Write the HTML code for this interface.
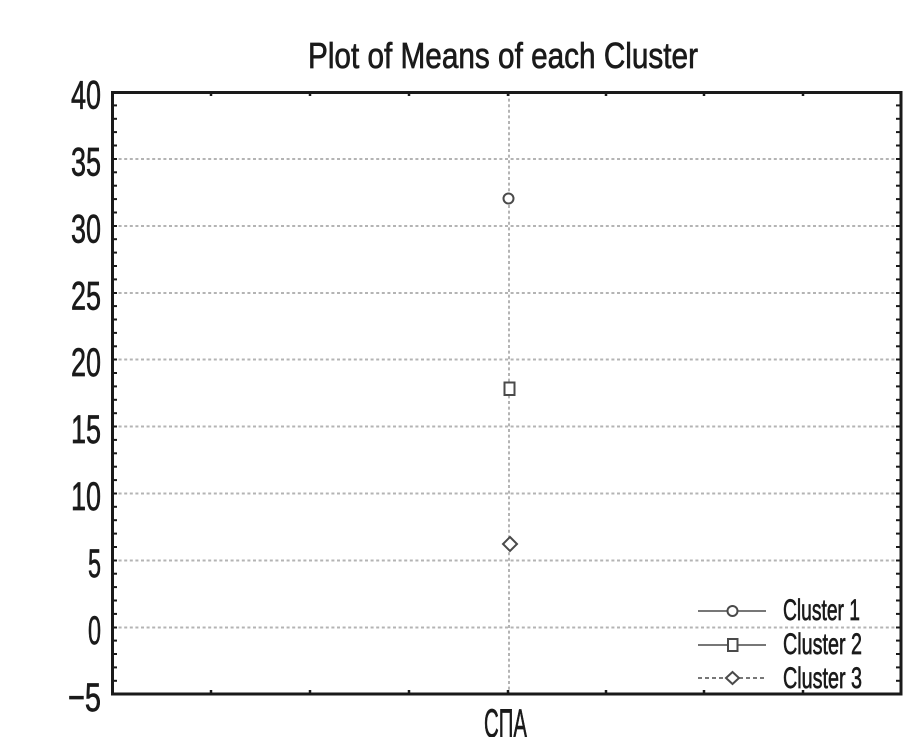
<!DOCTYPE html>
<html><head><meta charset="utf-8"><style>
html,body{margin:0;padding:0;background:#fff;}
svg{display:block;}
text{font-family:"Liberation Sans","DejaVu Sans",sans-serif;fill:#1a1a1a;stroke:#1a1a1a;stroke-width:0.7px;}
</style></head><body>
<svg width="906" height="737" viewBox="0 0 906 737" xmlns="http://www.w3.org/2000/svg">
<rect width="906" height="737" fill="#fff"/>
<text x="308" y="68" font-size="36" textLength="390" lengthAdjust="spacingAndGlyphs">Plot of Means of each Cluster</text>
<g stroke="#b4b4b4" stroke-width="2" stroke-dasharray="3,2.6">
<line x1="113" y1="159" x2="901" y2="159"/>
<line x1="113" y1="226" x2="901" y2="226"/>
<line x1="113" y1="293" x2="901" y2="293"/>
<line x1="113" y1="359.5" x2="901" y2="359.5"/>
<line x1="113" y1="426.5" x2="901" y2="426.5"/>
<line x1="113" y1="493.5" x2="901" y2="493.5"/>
<line x1="113" y1="560.5" x2="901" y2="560.5"/>
<line x1="113" y1="627.5" x2="901" y2="627.5"/>
<line x1="509" y1="93" x2="509" y2="694"/>
</g>
<g stroke="#1a1a1a" stroke-width="2">
<line x1="112" y1="105.4" x2="117" y2="105.4"/><line x1="112" y1="118.8" x2="117" y2="118.8"/><line x1="112" y1="132.1" x2="117" y2="132.1"/><line x1="112" y1="145.5" x2="117" y2="145.5"/><line x1="112" y1="159" x2="117" y2="159"/>
<line x1="112" y1="172.3" x2="117" y2="172.3"/><line x1="112" y1="185.7" x2="117" y2="185.7"/><line x1="112" y1="199.1" x2="117" y2="199.1"/><line x1="112" y1="212.5" x2="117" y2="212.5"/><line x1="112" y1="226" x2="117" y2="226"/>
<line x1="112" y1="239.2" x2="117" y2="239.2"/><line x1="112" y1="252.6" x2="117" y2="252.6"/><line x1="112" y1="266" x2="117" y2="266"/><line x1="112" y1="279.4" x2="117" y2="279.4"/><line x1="112" y1="293" x2="117" y2="293"/>
<line x1="112" y1="306.1" x2="117" y2="306.1"/><line x1="112" y1="319.5" x2="117" y2="319.5"/><line x1="112" y1="332.9" x2="117" y2="332.9"/><line x1="112" y1="346.3" x2="117" y2="346.3"/><line x1="112" y1="359.5" x2="117" y2="359.5"/>
<line x1="112" y1="373" x2="117" y2="373"/><line x1="112" y1="386.4" x2="117" y2="386.4"/><line x1="112" y1="399.8" x2="117" y2="399.8"/><line x1="112" y1="413.2" x2="117" y2="413.2"/><line x1="112" y1="426.5" x2="117" y2="426.5"/>
<line x1="112" y1="439.9" x2="117" y2="439.9"/><line x1="112" y1="453.3" x2="117" y2="453.3"/><line x1="112" y1="466.7" x2="117" y2="466.7"/><line x1="112" y1="480.1" x2="117" y2="480.1"/><line x1="112" y1="493.5" x2="117" y2="493.5"/>
<line x1="112" y1="506.8" x2="117" y2="506.8"/><line x1="112" y1="520.2" x2="117" y2="520.2"/><line x1="112" y1="533.6" x2="117" y2="533.6"/><line x1="112" y1="547" x2="117" y2="547"/><line x1="112" y1="560.5" x2="117" y2="560.5"/>
<line x1="112" y1="573.7" x2="117" y2="573.7"/><line x1="112" y1="587.1" x2="117" y2="587.1"/><line x1="112" y1="600.5" x2="117" y2="600.5"/><line x1="112" y1="613.9" x2="117" y2="613.9"/><line x1="112" y1="627.5" x2="117" y2="627.5"/>
<line x1="112" y1="640.6" x2="117" y2="640.6"/><line x1="112" y1="654" x2="117" y2="654"/><line x1="112" y1="667.4" x2="117" y2="667.4"/><line x1="112" y1="680.8" x2="117" y2="680.8"/>
</g>
<g stroke="#1a1a1a" stroke-width="2">
<line x1="901" y1="105.4" x2="896" y2="105.4"/><line x1="901" y1="118.8" x2="896" y2="118.8"/><line x1="901" y1="132.1" x2="896" y2="132.1"/><line x1="901" y1="145.5" x2="896" y2="145.5"/><line x1="901" y1="159" x2="896" y2="159"/>
<line x1="901" y1="172.3" x2="896" y2="172.3"/><line x1="901" y1="185.7" x2="896" y2="185.7"/><line x1="901" y1="199.1" x2="896" y2="199.1"/><line x1="901" y1="212.5" x2="896" y2="212.5"/><line x1="901" y1="226" x2="896" y2="226"/>
<line x1="901" y1="239.2" x2="896" y2="239.2"/><line x1="901" y1="252.6" x2="896" y2="252.6"/><line x1="901" y1="266" x2="896" y2="266"/><line x1="901" y1="279.4" x2="896" y2="279.4"/><line x1="901" y1="293" x2="896" y2="293"/>
<line x1="901" y1="306.1" x2="896" y2="306.1"/><line x1="901" y1="319.5" x2="896" y2="319.5"/><line x1="901" y1="332.9" x2="896" y2="332.9"/><line x1="901" y1="346.3" x2="896" y2="346.3"/><line x1="901" y1="359.5" x2="896" y2="359.5"/>
<line x1="901" y1="373" x2="896" y2="373"/><line x1="901" y1="386.4" x2="896" y2="386.4"/><line x1="901" y1="399.8" x2="896" y2="399.8"/><line x1="901" y1="413.2" x2="896" y2="413.2"/><line x1="901" y1="426.5" x2="896" y2="426.5"/>
<line x1="901" y1="439.9" x2="896" y2="439.9"/><line x1="901" y1="453.3" x2="896" y2="453.3"/><line x1="901" y1="466.7" x2="896" y2="466.7"/><line x1="901" y1="480.1" x2="896" y2="480.1"/><line x1="901" y1="493.5" x2="896" y2="493.5"/>
<line x1="901" y1="506.8" x2="896" y2="506.8"/><line x1="901" y1="520.2" x2="896" y2="520.2"/><line x1="901" y1="533.6" x2="896" y2="533.6"/><line x1="901" y1="547" x2="896" y2="547"/><line x1="901" y1="560.5" x2="896" y2="560.5"/>
<line x1="901" y1="573.7" x2="896" y2="573.7"/><line x1="901" y1="587.1" x2="896" y2="587.1"/><line x1="901" y1="600.5" x2="896" y2="600.5"/><line x1="901" y1="613.9" x2="896" y2="613.9"/><line x1="901" y1="627.5" x2="896" y2="627.5"/>
<line x1="901" y1="640.6" x2="896" y2="640.6"/><line x1="901" y1="654" x2="896" y2="654"/><line x1="901" y1="667.4" x2="896" y2="667.4"/><line x1="901" y1="680.8" x2="896" y2="680.8"/>
</g>
<g stroke="#1a1a1a" stroke-width="2.5">
<line x1="211" y1="92" x2="211" y2="96"/><line x1="310" y1="92" x2="310" y2="96"/><line x1="409" y1="92" x2="409" y2="96"/><line x1="508" y1="92" x2="508" y2="96"/><line x1="606" y1="92" x2="606" y2="96"/><line x1="704" y1="92" x2="704" y2="96"/><line x1="803" y1="92" x2="803" y2="96"/>
<line x1="211" y1="694" x2="211" y2="690"/><line x1="310" y1="694" x2="310" y2="690"/><line x1="409" y1="694" x2="409" y2="690"/><line x1="508" y1="694" x2="508" y2="690"/><line x1="606" y1="694" x2="606" y2="690"/><line x1="704" y1="694" x2="704" y2="690"/><line x1="803" y1="694" x2="803" y2="690"/>
</g>
<rect x="112.5" y="92.5" width="788.5" height="601.5" fill="none" stroke="#1a1a1a" stroke-width="3"/>
<g font-size="40">
<text x="71" y="108.5" textLength="30" lengthAdjust="spacingAndGlyphs">40</text>
<text x="71" y="175.5" textLength="30" lengthAdjust="spacingAndGlyphs">35</text>
<text x="71" y="242.5" textLength="30" lengthAdjust="spacingAndGlyphs">30</text>
<text x="71" y="309.5" textLength="30" lengthAdjust="spacingAndGlyphs">25</text>
<text x="71" y="376" textLength="30" lengthAdjust="spacingAndGlyphs">20</text>
<text x="71" y="443" textLength="30" lengthAdjust="spacingAndGlyphs">15</text>
<text x="71" y="510" textLength="30" lengthAdjust="spacingAndGlyphs">10</text>
<text x="88" y="577" textLength="13" lengthAdjust="spacingAndGlyphs">5</text>
<text x="88" y="644" textLength="13" lengthAdjust="spacingAndGlyphs">0</text>
<text x="68" y="711" textLength="33" lengthAdjust="spacingAndGlyphs">−5</text>
</g>
<text x="484" y="737" font-size="40" textLength="43" lengthAdjust="spacingAndGlyphs">СПА</text>
<circle cx="508.5" cy="198.5" r="5" fill="#fff" stroke="#4a4a4a" stroke-width="2"/>
<rect x="504.5" y="382.5" width="10" height="12.5" fill="#fff" stroke="#4a4a4a" stroke-width="2"/>
<polygon points="510,537 517,544 510,551 503,544" fill="#fff" stroke="#4a4a4a" stroke-width="2"/>
<g stroke="#4a4a4a" stroke-width="1.6">
<line x1="698" y1="611" x2="727" y2="611"/><line x1="738" y1="611" x2="766" y2="611"/>
<line x1="698" y1="645" x2="727" y2="645"/><line x1="738" y1="645" x2="766" y2="645"/>
<line x1="698" y1="678" x2="727" y2="678" stroke-dasharray="4,3"/><line x1="739" y1="678" x2="766" y2="678" stroke-dasharray="4,3"/>
</g>
<circle cx="732.5" cy="611" r="5" fill="#fff" stroke="#4a4a4a" stroke-width="2"/>
<rect x="728" y="639" width="9.5" height="12" fill="#fff" stroke="#4a4a4a" stroke-width="2"/>
<polygon points="732.5,672 739,678 732.5,684 726,678" fill="#fff" stroke="#4a4a4a" stroke-width="2"/>
<g font-size="30">
<text x="783" y="620" textLength="77" lengthAdjust="spacingAndGlyphs">Cluster 1</text>
<text x="783" y="654" textLength="79" lengthAdjust="spacingAndGlyphs">Cluster 2</text>
<text x="783" y="688" textLength="79" lengthAdjust="spacingAndGlyphs">Cluster 3</text>
</g>
</svg>
</body></html>
